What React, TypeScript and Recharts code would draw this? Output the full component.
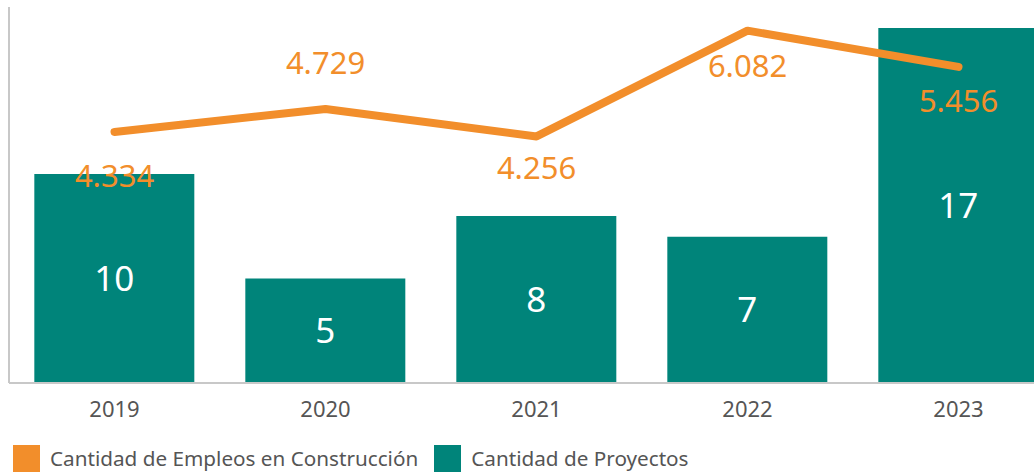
import React from 'react';
import { ComposedChart, Bar, Line, XAxis, YAxis, CartesianGrid, LabelList } from 'recharts';

const years = ['2019', '2020', '2021', '2022', '2023'];
const proyectos = [10, 5, 8, 7, 17];
const empleos = [4334, 4729, 4256, 6082, 5456];
const labelOffsets = [43, -47, 31, 34, 33];

const data = years.map((y, i) => ({ year: y, proyectos: proyectos[i], empleos: empleos[i] }));

const TEAL = '#00847A';
const ORANGE = '#F28E2B';
const FONT = '"Noto Sans", "Open Sans", sans-serif';

const fmt = (v: number) => String(v).replace(/\B(?=(\d{3})+(?!\d))/g, '.');

const LineLabel = (props: any) => {
  const { x, y, value, index } = props;
  return (
    <text
      x={x}
      y={y + labelOffsets[index]}
      textAnchor="middle"
      dominantBaseline="central"
      fill={ORANGE}
      fontSize={31}
      fontFamily={FONT}
    >
      {fmt(value)}
    </text>
  );
};

export default function App() {
  return (
    <div style={{ position: 'fixed', left: 0, top: 0, width: 1034, height: 474, overflow: 'hidden', background: '#fff' }}>
      <ComposedChart
        width={1064}
        height={474}
        data={data}
        margin={{ top: 7, right: 0, left: 8, bottom: 0 }}
        barCategoryGap="12%"
      >
        <CartesianGrid yAxisId="left" vertical={false} syncWithTicks stroke="#efefef" strokeWidth={2} />
        <XAxis
          dataKey="year"
          height={91}
          tickLine={false}
          tickSize={6}
          tickMargin={12}
          axisLine={{ stroke: '#c8c8c8', strokeWidth: 2 }}
          tick={{ fill: '#555555', fontSize: 22, fontFamily: FONT }}
        />
        <YAxis
          yAxisId="left"
          width={1}
          domain={[0, 18]}
          ticks={[0, 5, 10, 15]}
          tick={false}
          tickLine={false}
          axisLine={{ stroke: '#c8c8c8', strokeWidth: 2 }}
        />
        <YAxis yAxisId="right" orientation="right" hide domain={[0, 6490]} />
        <Bar yAxisId="left" dataKey="proyectos" fill={TEAL} isAnimationActive={false}>
          <LabelList dataKey="proyectos" position="center" fill="#ffffff" fontSize={35} fontFamily={FONT} />
        </Bar>
        <Line
          yAxisId="right"
          dataKey="empleos"
          stroke={ORANGE}
          strokeWidth={8}
          strokeLinecap="round"
          strokeLinejoin="round"
          dot={false}
          activeDot={false}
          isAnimationActive={false}
        >
          <LabelList dataKey="empleos" content={LineLabel} />
        </Line>
      </ComposedChart>
      <div style={{ position: 'absolute', left: 0, top: 444, display: 'flex', alignItems: 'center', fontFamily: FONT, fontSize: 20.7, color: '#555555' }}>
        <span style={{ display: 'inline-block', width: 27, height: 27, background: ORANGE, marginLeft: 13, marginRight: 10 }} />
        <span>Cantidad de Empleos en Construcción</span>
        <span style={{ display: 'inline-block', width: 27, height: 27, background: TEAL, marginLeft: 16, marginRight: 10 }} />
        <span>Cantidad de Proyectos</span>
      </div>
    </div>
  );
}
